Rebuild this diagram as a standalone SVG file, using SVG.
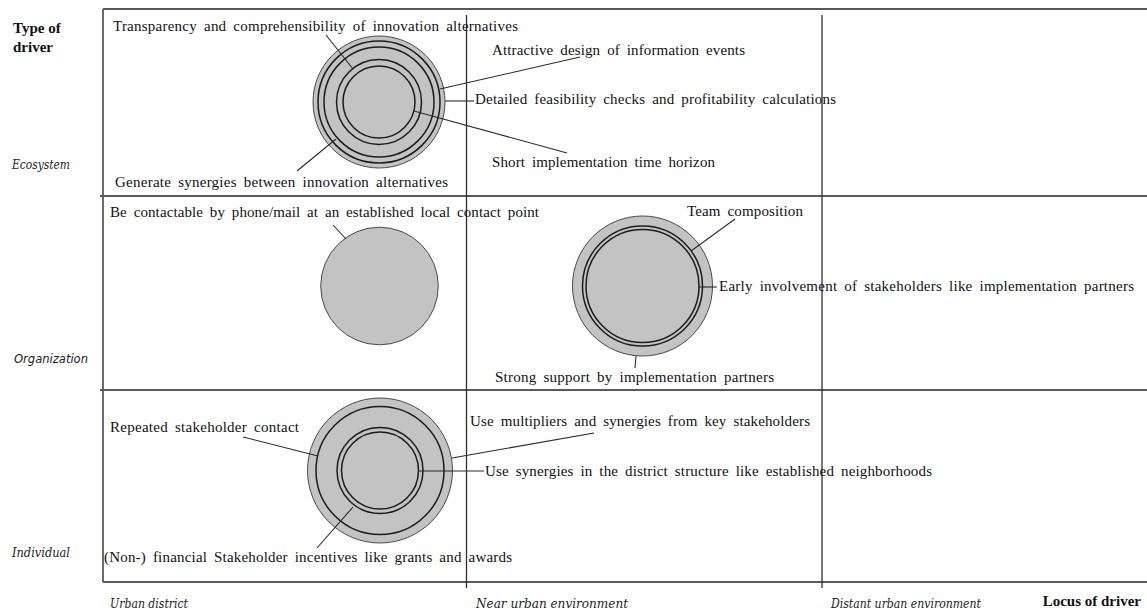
<svg xmlns="http://www.w3.org/2000/svg" width="1147" height="609" viewBox="0 0 1147 609">
  <style>
    .frame { stroke: #5a5a5a; stroke-width: 1.8; fill: none; }
    .col { stroke: #2e2e2e; stroke-width: 1.3; fill: none; }
    .disc { fill: #c3c3c3; stroke: #4a4a4a; stroke-width: 1; }
    .ring { fill: none; stroke: #1c1c1c; stroke-width: 1.5; }
    .conn line { stroke: #2a2a2a; stroke-width: 1.1; }
    .lbl { font-family: "Liberation Serif", "Times New Roman", serif; font-size: 15px; fill: #111; word-spacing: 3px; }
    .axis { font-family: "Liberation Serif", "Times New Roman", serif; font-size: 15px; font-weight: bold; fill: #111; }
    .cat { font-family: "DejaVu Serif", serif; font-style: italic; font-size: 12px; fill: #222; }
    .cat-sans { font-family: "DejaVu Sans", sans-serif; font-style: italic; font-size: 12px; fill: #222; }
  </style>

  <!-- grid: outer frame, row dividers and column dividers -->
  <g id="grid">
    <line class="frame" x1="103" y1="9" x2="1147" y2="9"/>
    <line class="frame" x1="103" y1="9" x2="103" y2="582"/>
    <line class="frame" x1="103" y1="582" x2="1147" y2="582"/>
    <line class="frame" x1="100" y1="196" x2="1147" y2="196"/>
    <line class="frame" x1="100" y1="390" x2="1147" y2="390"/>
    <line class="col" x1="466.5" y1="15" x2="466.5" y2="588"/>
    <line class="col" x1="822" y1="15" x2="822" y2="588"/>
  </g>

  <!-- axis titles and category labels -->
  <g id="axes">
    <text class="axis" x="13" y="33">Type of</text>
    <text class="axis" x="13" y="52">driver</text>
    <text class="axis" x="1141" y="606" text-anchor="end">Locus of driver</text>
    <text class="cat" x="12" y="169" textLength="58" lengthAdjust="spacingAndGlyphs">Ecosystem</text>
    <text class="cat-sans" x="14" y="363" textLength="74" lengthAdjust="spacingAndGlyphs">Organization</text>
    <text class="cat" x="12" y="557" textLength="58" lengthAdjust="spacingAndGlyphs">Individual</text>
    <text class="cat" x="110" y="608" textLength="78" lengthAdjust="spacingAndGlyphs">Urban district</text>
    <text class="cat" x="476" y="608" textLength="152" lengthAdjust="spacingAndGlyphs">Near urban environment</text>
    <text class="cat" x="831" y="608" textLength="150" lengthAdjust="spacingAndGlyphs">Distant urban environment</text>
  </g>

  <!-- ecosystem drivers: five nested rings -->
  <g id="node-ecosystem">
    <circle class="disc" cx="379" cy="102" r="66"/>
    <circle class="ring" cx="379" cy="102" r="61"/>
    <circle class="ring" cx="379" cy="102" r="55"/>
    <circle class="ring" cx="379" cy="102" r="42.5"/>
    <circle class="ring" cx="379" cy="102" r="36"/>
  </g>

  <!-- organization drivers in the urban district: single disc -->
  <g id="node-org-district">
    <circle class="disc" cx="379.5" cy="286" r="58.8"/>
  </g>

  <!-- organization drivers in the near urban environment -->
  <g id="node-org-near">
    <circle class="disc" cx="642.5" cy="286" r="70"/>
    <circle class="ring" cx="642.5" cy="286" r="60"/>
    <circle class="ring" cx="642.5" cy="286" r="56.5"/>
  </g>

  <!-- individual drivers -->
  <g id="node-individual">
    <circle class="disc" cx="380" cy="470.5" r="72.5"/>
    <circle class="ring" cx="380" cy="470.5" r="64"/>
    <circle class="ring" cx="380" cy="470.5" r="43"/>
    <circle class="ring" cx="380" cy="470.5" r="38.5"/>
  </g>

  <!-- leader lines from rings to their labels -->
  <g id="connectors" class="conn">
    <line x1="326" y1="35" x2="353" y2="69"/>
    <line x1="580" y1="57" x2="440" y2="89"/>
    <line x1="445" y1="101" x2="474" y2="101"/>
    <line x1="414" y1="111" x2="567" y2="153"/>
    <line x1="297" y1="171" x2="336" y2="139"/>
    <line x1="333" y1="225" x2="346" y2="239"/>
    <line x1="735" y1="219" x2="691" y2="251"/>
    <line x1="699" y1="287" x2="717" y2="287"/>
    <line x1="636" y1="356" x2="635" y2="368"/>
    <line x1="243" y1="437" x2="318" y2="456"/>
    <line x1="594" y1="433" x2="452" y2="458"/>
    <line x1="418.5" y1="471" x2="484" y2="471"/>
    <line x1="317" y1="548" x2="353" y2="507"/>
  </g>

  <!-- driver labels -->
  <g id="labels">
    <text id="lbl-transparency" class="lbl" x="113" y="31" textLength="405" lengthAdjust="spacing">Transparency and comprehensibility of innovation alternatives</text>
    <text id="lbl-attractive" class="lbl" x="492" y="55" textLength="253" lengthAdjust="spacing">Attractive design of information events</text>
    <text id="lbl-detailed" class="lbl" x="475" y="104" textLength="361" lengthAdjust="spacing">Detailed feasibility checks and profitability calculations</text>
    <text id="lbl-short" class="lbl" x="492" y="167" textLength="223" lengthAdjust="spacing">Short implementation time horizon</text>
    <text id="lbl-generate" class="lbl" x="115" y="187" textLength="333" lengthAdjust="spacing">Generate synergies between innovation alternatives</text>
    <text id="lbl-contactable" class="lbl" x="110" y="217" textLength="429" lengthAdjust="spacing">Be contactable by phone/mail at an established local contact point</text>
    <text id="lbl-team" class="lbl" x="687" y="216" textLength="116" lengthAdjust="spacing">Team composition</text>
    <text id="lbl-early" class="lbl" x="719" y="291" textLength="415" lengthAdjust="spacing">Early involvement of stakeholders like implementation partners</text>
    <text id="lbl-strong" class="lbl" x="495" y="382" textLength="279" lengthAdjust="spacing">Strong support by implementation partners</text>
    <text id="lbl-repeated" class="lbl" x="110" y="432" textLength="189" lengthAdjust="spacing">Repeated stakeholder contact</text>
    <text id="lbl-multipliers" class="lbl" x="470" y="426" textLength="340" lengthAdjust="spacing">Use multipliers and synergies from key stakeholders</text>
    <text id="lbl-district" class="lbl" x="485" y="476" textLength="447" lengthAdjust="spacing">Use synergies in the district structure like established neighborhoods</text>
    <text id="lbl-incentives" class="lbl" x="104" y="562" textLength="408" lengthAdjust="spacing">(Non-) financial Stakeholder incentives like grants and awards</text>
  </g>
</svg>
